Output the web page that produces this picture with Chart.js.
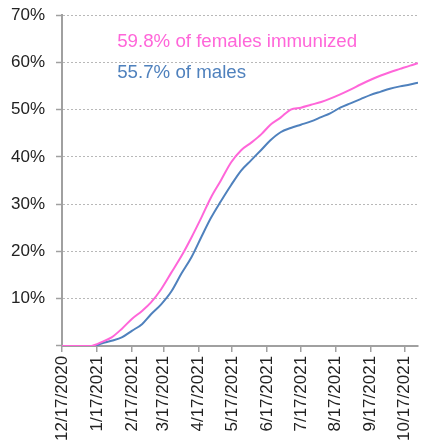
<!DOCTYPE html>
<html>
<head>
<meta charset="utf-8">
<script src="https://cdn.jsdelivr.net/npm/chart.js@4"></script>
<style>
  html, body { margin: 0; padding: 0; background: #fff; }
  #wrap { width: 422px; height: 445px; position: relative; }
</style>
</head>
<body>
<div id="wrap"><canvas id="chart"></canvas></div>
<script>
// days since 12/17/2020
const days = [0, 26, 29, 35, 44, 53, 62, 71, 79, 88, 97, 106, 115, 124, 132, 141, 150, 159, 168, 177, 185, 194, 203, 212, 221, 230, 238, 247, 256, 265, 274, 283, 291, 300, 309, 316];
const females = [0, 0, 0.2, 0.8, 1.8, 3.6, 5.7, 7.4, 9.2, 12, 15.5, 19, 23, 27.3, 31.3, 35, 38.8, 41.4, 43, 44.8, 46.8, 48.3, 50, 50.4, 51, 51.6, 52.3, 53.2, 54.2, 55.3, 56.3, 57.2, 57.9, 58.6, 59.3, 59.8];
const males = [0, 0, 0, 0.5, 1.1, 1.8, 3.2, 4.6, 6.7, 8.8, 11.5, 15.3, 18.8, 23.2, 27, 30.6, 34, 37.1, 39.3, 41.5, 43.5, 45.2, 46.1, 46.8, 47.5, 48.4, 49.2, 50.4, 51.3, 52.2, 53.1, 53.8, 54.4, 54.9, 55.3, 55.7];

const tickDays = [0, 31, 62, 90, 121, 151, 182, 212, 243, 274, 304];
const tickLabels = ['12/17/2020', '1/17/2021', '2/17/2021', '3/17/2021', '4/17/2021', '5/17/2021', '6/17/2021', '7/17/2021', '8/17/2021', '9/17/2021', '10/17/2021'];

const notes = [
  { text: '59.8% of females immunized', color: '#ff66d9', day: 49, value: 63.2 },
  { text: '55.7% of males', color: '#4f81bd', day: 49, value: 56.6 }
];

const PINK = '#ff66d9';
const BLUE = '#4f81bd';
const AXIS = '#a0a0a0';
const FONT = "'Liberation Sans', Arial, sans-serif";

const notePlugin = {
  id: 'notes',
  afterDatasetsDraw(chart) {
    const { ctx, scales: { x, y } } = chart;
    ctx.save();
    ctx.font = '18.7px ' + FONT;
    ctx.textBaseline = 'alphabetic';
    notes.forEach(n => {
      ctx.fillStyle = n.color;
      ctx.fillText(n.text, x.getPixelForValue(n.day), y.getPixelForValue(n.value));
    });
    ctx.restore();
  }
};

const toPoints = vals => vals.map((v, i) => ({ x: days[i], y: v }));

new Chart(document.getElementById('chart'), {
  type: 'line',
  data: {
    datasets: [
      { label: 'Females', data: toPoints(females), borderColor: PINK, borderWidth: 2, pointRadius: 0, cubicInterpolationMode: 'monotone' },
      { label: 'Males', data: toPoints(males), borderColor: BLUE, borderWidth: 2, pointRadius: 0, cubicInterpolationMode: 'monotone' }
    ]
  },
  options: {
    responsive: true,
    maintainAspectRatio: false,
    animation: false,
    layout: { padding: { top: 15, right: 4, left: 0, bottom: 0 } },
    plugins: { legend: { display: false }, tooltip: { enabled: false } },
    scales: {
      x: {
        type: 'linear',
        min: 0,
        max: 316,
        afterBuildTicks: axis => { axis.ticks = tickDays.map(v => ({ value: v })); },
        afterFit: axis => { axis.paddingRight = 0; },
        ticks: {
          autoSkip: false,
          maxRotation: 90,
          minRotation: 90,
          padding: 4,
          color: '#222',
          font: { family: FONT, size: 17 },
          callback: v => tickLabels[tickDays.indexOf(v)]
        },
        grid: { drawOnChartArea: false, drawTicks: true, tickLength: 6, color: AXIS, lineWidth: 1.5 },
        border: { color: AXIS, width: 2 }
      },
      y: {
        min: 0,
        max: 70,
        afterFit: axis => { axis.paddingTop = 0; axis.paddingBottom = 0; },
        ticks: {
          stepSize: 10,
          padding: 11,
          color: '#222',
          font: { family: FONT, size: 17 },
          callback: v => v === 0 ? '' : v + '%'
        },
        grid: { color: '#b8b8b8', lineWidth: 1, tickLength: 6, tickColor: AXIS, tickWidth: 1.5 },
        border: { color: AXIS, width: 2, dash: [2, 2] }
      }
    }
  },
  plugins: [notePlugin]
});
</script>
</body>
</html>
